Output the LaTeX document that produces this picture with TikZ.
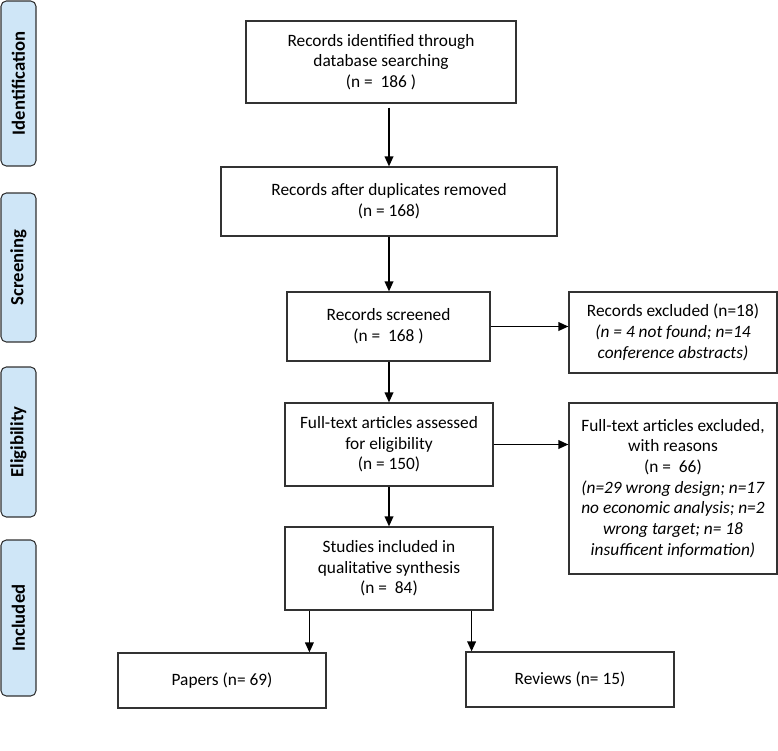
\documentclass[tikz,border=0pt]{standalone}
\usepackage{fontspec}
\setmainfont{Carlito}
\usetikzlibrary{arrows.meta,calc}
\definecolor{sidefill}{RGB}{207,230,247}
\definecolor{boxline}{RGB}{50,50,50}
\begin{document}
\begin{tikzpicture}[x=0.75pt,y=-0.75pt,
  box/.style={draw=boxline,line width=0.9pt,rectangle,inner sep=0pt,align=center,
    font=\fontsize{13}{15.5}\selectfont},
  side/.style={draw=boxline,fill=sidefill,line width=0.8pt,rounded corners=4pt,rotate=90,
    inner sep=0pt,minimum height=26.25pt,font=\fontsize{14}{16}\selectfont\bfseries},
  arr/.style={-{Triangle[length=7.5pt,width=6.5pt]},line width=1.1pt,black}]
\useasboundingbox (0,0) rectangle (778,750);

% side labels
\node[side,minimum width=165*0.75pt] (sid) at (18.5,83.5) {Identification};
\node[side,minimum width=149*0.75pt] (sscr) at (18.5,267.5) {Screening};
\node[side,minimum width=150*0.75pt] (seli) at (18.5,442) {Eligibility};
\node[side,minimum width=156*0.75pt] (sinc) at (18.5,618) {Included};

% boxes
\node[box,minimum width=270*0.75pt,minimum height=82*0.75pt] (b1) at (381,62)
  {Records identified through\\database searching\\(n =\ \ 186 )};
\node[box,minimum width=336*0.75pt,minimum height=69*0.75pt] (b2) at (389,201.5)
  {Records after duplicates removed\\(n = 168)};
\node[box,minimum width=203*0.75pt,minimum height=69*0.75pt] (b3) at (388.5,326.5)
  {Records screened\\(n =\ \ 168 )};
\node[box,minimum width=208*0.75pt,minimum height=81*0.75pt] (ex1) at (673,332.5)
  {Records excluded (n=18)\\\textit{(n = 4 not found; n=14}\\\textit{conference abstracts)}};
\node[box,minimum width=208*0.75pt,minimum height=83*0.75pt] (b4) at (389,444.5)
  {Full-text articles assessed\\for eligibility\\(n = 150)};
\node[box,minimum width=208*0.75pt,minimum height=171*0.75pt] (ex2) at (673,488.5)
  {Full-text articles excluded,\\with reasons\\(n =\ \ 66)\\\textit{(n=29 wrong design; n=17}\\\textit{no economic analysis; n=2}\\\textit{wrong target; n= 18}\\\textit{insufficent information)}};
\node[box,minimum width=208*0.75pt,minimum height=83*0.75pt] (b5) at (389,568.5)
  {Studies included in\\qualitative synthesis\\(n =\ \ 84)};
\node[box,minimum width=208*0.75pt,minimum height=55*0.75pt] (pap) at (222,680.5)
  {Papers (n= 69)};
\node[box,minimum width=208*0.75pt,minimum height=55*0.75pt] (rev) at (570,679.5)
  {Reviews (n= 15)};

% connectors
\draw[arr] ([yshift=-3pt]b2.north |- b1.south) -- (b2.north);
\draw[arr] (b2.south) -- (b3.north -| b2.south);
\draw[arr] (b3.south -| b4.north) -- (b4.north);
\draw[arr] (b3.east) -- (b3.east -| ex1.west);
\draw[arr] (b4.east) -- (b4.east -| ex2.west);
\draw[arr] (b4.south) -- (b5.north);
\draw[arr] ([shift={(25,0)}]b5.south west) -- ([shift={(25,0)}]b5.south west |- pap.north);
\draw[arr] ([shift={(-22,0)}]b5.south east) -- ([shift={(-22,0)}]b5.south east |- rev.north);
\end{tikzpicture}
\end{document}
